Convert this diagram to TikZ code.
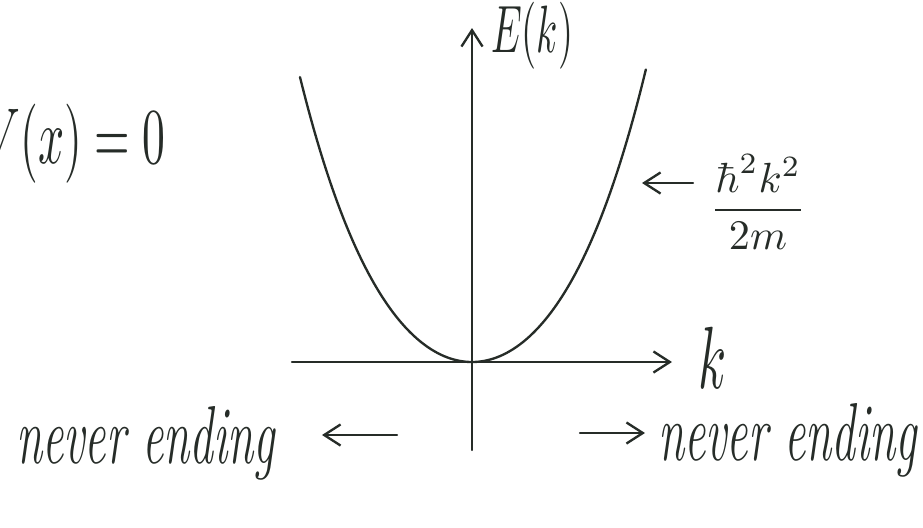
\documentclass[tikz,border=0pt]{standalone}
\usepackage{graphicx}
\usetikzlibrary{arrows.meta}
\definecolor{ink}{RGB}{38,44,40}
\newcommand{\hw}[1]{\scalebox{0.75}[1.3]{#1}}
\newcommand{\hwm}[3]{\scalebox{#1}[#2]{#3}}
\begin{document}
\begin{tikzpicture}[x=3cm,y=3cm,line cap=round,line join=round,line width=2pt,color=ink,
>={Straight Barb[length=14pt,width=18pt]}]
\tikzset{declare function={xmin=-1.80;xmax=2.00;ymin=-0.88;ymax=3.34;
f(\x)=0.75*(\x)^2+0.072*(\x)^4;
},
smooth,samples=200,
lbl/.style={inner sep=0pt,text=ink}
}
\useasboundingbox (-4.72,-1.65) rectangle (4.51,3.62);
\clip (-4.72,-1.65) rectangle (4.51,3.62);
\draw[->] (xmin,0)--(xmax,0);
\draw[->] (0,ymin)--(0,ymax);
\node[lbl,anchor=west] (Ek) at (0.18,3.26) {\hwm{3.3}{5.72}{$E(k)$}};
\node[lbl] (k) at (2.41,0.04) {\hwm{4.35}{7.54}{$k$}};
\draw plot[domain=-1.72:1.74] (\x,{f(\x)});
% dispersion
\node[lbl] (disp) at (2.86,1.60) {\hwm{3.6}{3.6}{$\displaystyle\frac{\hbar^2k^2}{2m}$}};
\coordinate (dfrom) at (2.21,1.79);
\coordinate (dto) at (1.70,1.79);
\draw[->] (dfrom)--(dto);
\node[lbl,anchor=base east] (Vx) at (-3.05,1.99) {\hwm{3.9}{6.76}{$V(x)=0$}};
% never ending
\node[lbl,anchor=base west,font=\fontsize{54}{60}\selectfont\itshape] (lne) at (-4.57,-1.01) {\hw{never ending}};
\node[lbl,anchor=base west,font=\fontsize{54}{60}\selectfont\itshape] (rne) at (1.85,-0.98) {\hw{never ending}};
\coordinate (lfrom) at (-0.75,-0.73);
\coordinate (lto) at (-1.50,-0.73);
\coordinate (rfrom) at (1.08,-0.71);
\coordinate (rto) at (1.73,-0.71);
\draw[->] (lfrom)--(lto);
\draw[->] (rfrom)--(rto);
\end{tikzpicture}
\end{document}
